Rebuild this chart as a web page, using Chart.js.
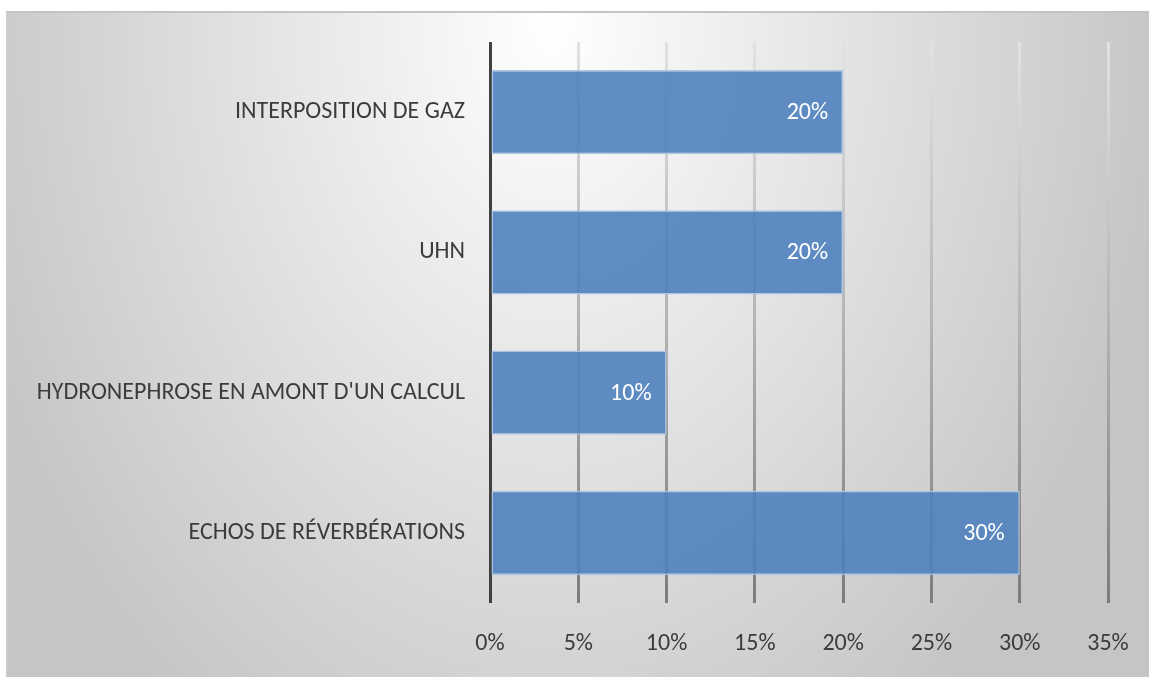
<!DOCTYPE html>
<html>
<head>
<meta charset="utf-8">
<script src="https://cdn.jsdelivr.net/npm/chart.js@4.4.1/dist/chart.umd.min.js"></script>
<style>
  html, body { margin: 0; padding: 0; background: #fff; overflow: hidden; }
  #frame {
    position: absolute; left: 6px; top: 11px; width: 1143px; height: 666px;
    box-sizing: border-box;
    border-top: 2px solid #c4c4c4; border-left: 1px solid #d0d0d0;
    background: radial-gradient(ellipse 620px 860px at 545px 10px, #ffffff 0%, #c5c5c5 100%);
  }
  #chart { position: absolute; left: 0; top: 0; }
</style>
</head>
<body>
<div id="frame"><canvas id="chart" width="1142" height="664"></canvas></div>
<script>
const categories = ['INTERPOSITION DE GAZ', 'UHN', "HYDRONEPHROSE EN AMONT D'UN CALCUL", 'ECHOS DE RÉVERBÉRATIONS'];
const percentages = [20, 20, 10, 30];
const tickValues = [0, 5, 10, 15, 20, 25, 30, 35];

const FONT = '"Carlito", "Lato", sans-serif';
const TEXT_COLOR = '#3c3c3c';

// vertical gradient for the gridlines: pale at the top, darker toward the bottom
function gridColor(ctx) {
    if (ctx.index === 0) return '#404040';
    const area = ctx.chart.chartArea;
    if (!area) return '#b0b0b0';
    const grad = ctx.chart.ctx.createLinearGradient(0, area.top, 0, area.bottom);
    grad.addColorStop(0, '#e2e2e2');
    grad.addColorStop(0.5, '#b4b4b4');
    grad.addColorStop(1, '#7c7c7c');
    return grad;
}

const barValueLabels = {
    id: 'barValueLabels',
    afterDatasetsDraw(chart) {
        const { ctx } = chart;
        const meta = chart.getDatasetMeta(0);
        ctx.save();
        ctx.font = '24px ' + FONT;
        ctx.fillStyle = '#ffffff';
        ctx.textAlign = 'right';
        ctx.textBaseline = 'middle';
        meta.data.forEach((bar, i) => {
            ctx.fillText(percentages[i] + '%', bar.x - 15, bar.y + 1);
        });
        ctx.restore();
    }
};

new Chart(document.getElementById('chart'), {
    type: 'bar',
    data: {
        labels: categories,
        datasets: [{
            data: percentages,
            backgroundColor: 'rgba(79, 129, 189, 0.9)',
            borderColor: 'rgba(170, 196, 228, 0.95)',
            borderWidth: 1.5,
            borderSkipped: false,
            barPercentage: 0.6,
            categoryPercentage: 1.0
        }]
    },
    options: {
        indexAxis: 'y',
        responsive: false,
        animation: false,
        layout: { padding: { top: 29, right: 41, left: 0, bottom: 0 } },
        plugins: {
            legend: { display: false },
            tooltip: { enabled: false }
        },
        scales: {
            x: {
                min: 0,
                max: 35,
                afterBuildTicks(scale) {
                    scale.ticks = tickValues.map(v => ({ value: v }));
                },
                afterFit(scale) {
                    scale.height = 74;
                    scale.paddingLeft = 0;
                    scale.paddingRight = 0;
                },
                border: { display: false },
                grid: { color: gridColor, lineWidth: 3, drawTicks: false },
                ticks: {
                    padding: 27,
                    color: TEXT_COLOR,
                    font: { family: FONT, size: 24 },
                    callback: v => v + '%'
                }
            },
            y: {
                afterFit(scale) {
                    scale.width = 483;
                    scale.paddingTop = 0;
                    scale.paddingBottom = 0;
                },
                border: { display: false },
                grid: { display: false, drawTicks: false },
                ticks: {
                    padding: 25,
                    color: TEXT_COLOR,
                    font: { family: FONT, size: 24 }
                }
            }
        }
    },
    plugins: [barValueLabels]
});
</script>
</body>
</html>
